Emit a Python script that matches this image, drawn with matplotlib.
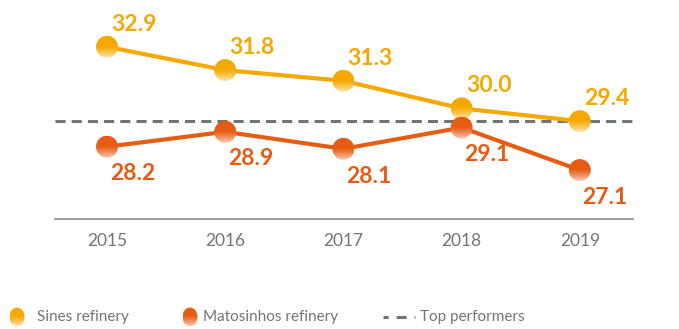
import numpy as np
import matplotlib
matplotlib.use('Agg')
import matplotlib.pyplot as plt
from matplotlib.patches import Ellipse
from matplotlib.transforms import IdentityTransform
from matplotlib.colors import to_rgb

years = [2015, 2016, 2017, 2018, 2019]
sines = [32.9, 31.8, 31.3, 30.0, 29.4]
matosinhos = [28.2, 28.9, 28.1, 29.1, 27.1]
top_performers = 29.4
names = ['Sines refinery', 'Matosinhos refinery', 'Top performers']

SINES_C = '#F5A800'
MATO_C = '#E65C13'
DASH_C = '#6F7479'
GREY = '#747474'

plt.rcParams['font.family'] = ['Lato', 'DejaVu Sans']

W, H = 679, 329
fig = plt.figure(figsize=(W / 100, H / 100), dpi=100)
ax = fig.add_axes([55 / W, 1 - 219 / H, 578 / W, 219 / H])
XLIM = (2014.56, 2019.45)
YLIM = (24.8, 35.1)
ax.set_xlim(*XLIM)
ax.set_ylim(*YLIM)


def grad_img(color, n=64):
    # solid on top, fading towards white at the bottom
    rgb = np.array(to_rgb(color))
    t = np.linspace(0, 1, n)
    w = np.clip((t - 0.45) / 0.55, 0, 1) ** 1.2 * 0.7
    img = rgb[None, :] + (1 - rgb[None, :]) * w[:, None]
    return img[:, None, :]


def gradient_dot(a, x, y, color, w_px, h_px):
    cx, cy = a.transData.transform((x, y))
    inv = a.transData.inverted()
    x0, y0 = inv.transform((cx - w_px / 2, cy - h_px / 2))
    x1, y1 = inv.transform((cx + w_px / 2, cy + h_px / 2))
    im = a.imshow(grad_img(color), extent=(x0, x1, min(y0, y1), max(y0, y1)),
                  origin='upper' if y1 > y0 else 'lower', aspect='auto',
                  interpolation='bilinear', zorder=5)
    im.set_clip_path(Ellipse((cx, cy), w_px, h_px, transform=IdentityTransform()))


ax.axhline(top_performers, color=DASH_C, lw=2.2, dashes=(3.3, 2.0), zorder=2)
ax.plot(years, sines, color=SINES_C, lw=3, zorder=3, solid_capstyle='round')
ax.plot(years, matosinhos, color=MATO_C, lw=3, zorder=3, solid_capstyle='round')

for x, v in zip(years, sines):
    gradient_dot(ax, x, v, SINES_C, 22, 22)
    ax.annotate(f'{v:.1f}', (x, v), xytext=(3, 11.5), textcoords='offset points',
                ha='left', va='baseline', fontsize=16.5, fontweight='bold',
                color=SINES_C)
for x, v in zip(years, matosinhos):
    gradient_dot(ax, x, v, MATO_C, 22, 22)
    ax.annotate(f'{v:.1f}', (x, v), xytext=(2, -12), textcoords='offset points',
                ha='left', va='top', fontsize=16.5, fontweight='bold',
                color=MATO_C)

ax.set_xlim(*XLIM)
ax.set_ylim(*YLIM)
for s in ['top', 'left', 'right']:
    ax.spines[s].set_visible(False)
ax.spines['bottom'].set_color('#8C8C8C')
ax.spines['bottom'].set_linewidth(1.2)
ax.set_yticks([])
ax.set_xticks(years)
ax.set_xticklabels([str(y) for y in years])
ax.tick_params(axis='x', length=0, pad=10, labelsize=12.5, labelcolor=GREY)

# legend row in pixel coordinates
lax = fig.add_axes([0, 0, 1, 1], zorder=-1)
lax.set_xlim(0, W)
lax.set_ylim(H, 0)
lax.axis('off')
ly = 317
gradient_dot(lax, 17, ly, SINES_C, 15, 19)
gradient_dot(lax, 190, ly, MATO_C, 15, 19)
lax.plot([383, 415], [ly, ly], color=DASH_C, lw=2.2, ls=(1.6, (3.3, 2.6)))
for x, s in zip([37, 203, 420], names):
    lax.text(x, ly, s, ha='left', va='center', fontsize=11, color=GREY)
lax.set_xlim(0, W)
lax.set_ylim(H, 0)

fig.savefig('out.png', dpi=100)
